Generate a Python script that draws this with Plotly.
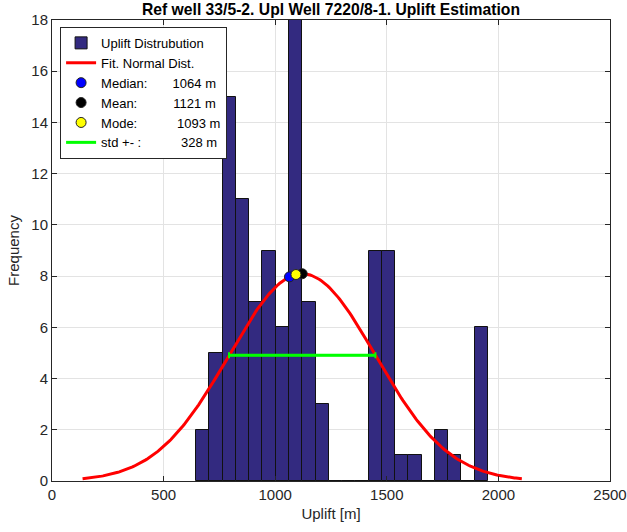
import numpy as np
import plotly.graph_objects as go

# ---- data ----
bin_start = 646.0
bin_width = 59.4
counts = [2, 5, 15, 11, 7, 9, 6, 18, 7, 3, 0, 0, 0, 9, 9, 1, 1, 0, 2, 1, 0, 6]
median_val = 1064
mean_val = 1121
mode_val = 1093
std_val = 328

title = "Ref well 33/5-2. Upl Well 7220/8-1. Uplift Estimation"
x_ticks = [0, 500, 1000, 1500, 2000, 2500]
y_ticks = list(range(0, 19, 2))

centers = [bin_start + bin_width * (i + 0.5) for i in range(len(counts))]
n_total = sum(counts)

def fit(x):
    x = np.asarray(x, dtype=float)
    return n_total * bin_width / (std_val * np.sqrt(2 * np.pi)) * np.exp(-0.5 * ((x - mean_val) / std_val) ** 2)

xc = np.linspace(mean_val - 3 * std_val, mean_val + 3 * std_val, 300)

FONT = "Liberation Sans, Arial, sans-serif"
fig = go.Figure()
fig.add_trace(go.Bar(x=centers, y=counts, width=bin_width, name="Uplift Distrubution",
                     marker=dict(color="rgb(51,42,128)", line=dict(color="#111111", width=1))))
fig.add_trace(go.Scatter(x=xc, y=fit(xc), mode="lines", name="Fit. Normal Dist.",
                         line=dict(color="#ff0000", width=3)))
nb = "\u00a0"
fig.add_trace(go.Scatter(x=[median_val], y=fit([median_val]), mode="markers",
                         name="Median:" + nb * 7 + f"{median_val} m",
                         marker=dict(color="#0000ff", size=10, line=dict(color="#222222", width=1))))
fig.add_trace(go.Scatter(x=[mean_val], y=fit([mean_val]), mode="markers",
                         name="Mean:" + nb * 10 + f"{mean_val} m",
                         marker=dict(color="#000000", size=10, line=dict(color="#222222", width=1))))
fig.add_trace(go.Scatter(x=[mode_val], y=fit([mode_val]), mode="markers",
                         name="Mode:" + nb * 11 + f"{mode_val} m",
                         marker=dict(color="#ffff00", size=10, line=dict(color="#222222", width=1))))
ys = float(fit([mean_val - std_val])[0])
fig.add_trace(go.Scatter(x=[mean_val - std_val, mean_val + std_val], y=[ys, ys], mode="lines",
                         name="std +- :" + nb * 11 + f"{std_val} m",
                         line=dict(color="#00ff00", width=3)))
fig.add_trace(go.Scatter(x=[mean_val], y=[ys], mode="markers", showlegend=False,
                         marker=dict(size=1, color="rgba(0,0,0,0)"),
                         error_x=dict(type="constant", value=std_val, color="#00ff00",
                                      thickness=2, width=3)))

axis_common = dict(showline=True, linecolor="#262626", linewidth=1, mirror="ticks",
                   ticks="inside", ticklen=5, tickcolor="#262626", automargin=False,
                   showgrid=True, gridcolor="#e3e3e3", gridwidth=1, zeroline=False,
                   tickfont=dict(family=FONT, size=15, color="#262626"))
fig.update_xaxes(range=[0, 2500], tickvals=x_ticks, title=dict(text="Uplift [m]", standoff=6,
                 font=dict(family=FONT, size=15, color="#262626")), **axis_common)
fig.update_yaxes(range=[0, 18], tickvals=y_ticks, title=dict(text="Frequency", standoff=8,
                 font=dict(family=FONT, size=15, color="#262626")), **axis_common)

fig.update_layout(
    width=627, height=532,
    margin=dict(l=52, r=17, t=20, b=51),
    plot_bgcolor="white", paper_bgcolor="white",
    bargap=0,
    title=dict(text="<b>" + title + "</b>", x=0.5 + (52 - 17) / 2 / 627, xanchor="center",
               y=1 - 10 / 532, yref="container", yanchor="middle",
               font=dict(family=FONT, size=15.7, color="#000000")),
    legend=dict(x=0.0145, y=0.985, xanchor="left", yanchor="top",
                bgcolor="white", bordercolor="#262626", borderwidth=1,
                font=dict(family=FONT, size=13, color="#000000"),
                tracegroupgap=0, itemwidth=30),
    showlegend=True,
)
fig.write_html("out.html")
